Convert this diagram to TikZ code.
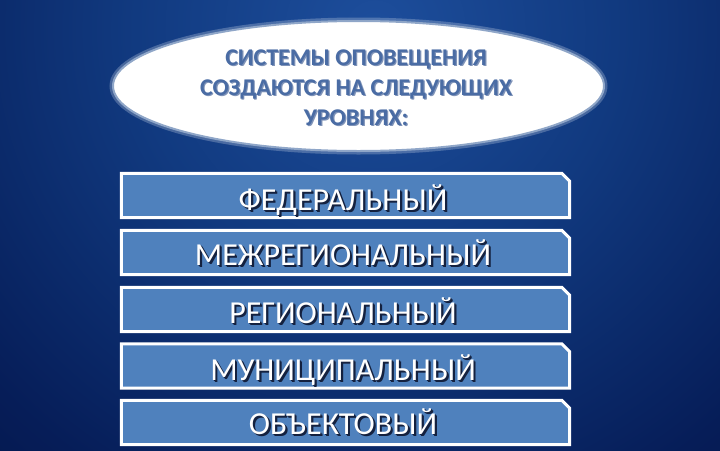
\documentclass[tikz,border=0pt]{standalone}
\usepackage{fontspec}
\setmainfont{Carlito}
\usetikzlibrary{shapes.geometric,calc}
\definecolor{bgA}{HTML}{1D4E9C}
\definecolor{bgB}{HTML}{113A80}
\definecolor{bgC}{HTML}{061D58}
\definecolor{bgD}{HTML}{000A33}
\definecolor{barBlue}{HTML}{4F81BD}
\definecolor{ellLine}{HTML}{8FA6C8}
\definecolor{ellText}{HTML}{4A6CA4}
\definecolor{ellShadow}{HTML}{7F93B8}
\definecolor{barShadow}{HTML}{14213F}
\pgfdeclareradialshading{bgshade}{\pgfpoint{0bp}{0bp}}{color(0bp)=(bgA); color(6bp)=(bgB); color(13bp)=(bgC); color(21bp)=(bgD); color(50bp)=(bgD)}
% text with a drop shadow: #1 shadow colour, #2 offset, #3 text
\newcommand\shadowtxt[3]{\rlap{\hspace{#2}\raisebox{-#2}{\textcolor{#1}{#3}}}#3}
\newcommand\barlabel[1]{\rlap{\hspace{2.2pt}\raisebox{-2.2pt}{\textcolor{barShadow}{#1}}}\rlap{\hspace{1.2pt}\raisebox{-1.2pt}{\textcolor{barShadow}{#1}}}#1}
\begin{document}
\begin{tikzpicture}[x=1pt,y=-1pt,
  barbox/.style={rectangle, minimum width=448pt, minimum height=44pt, inner sep=0pt},
  barline/.style={draw=white, line width=3pt, fill=barBlue, line join=miter},
  bartext/.style={anchor=base, text=white, inner sep=0pt, font=\fontsize{32}{34}\selectfont},
  elltext/.style={align=center, inner sep=0pt, text=ellText,
    font=\fontsize{24}{30}\selectfont\bfseries}
]
\useasboundingbox (0,0) rectangle (720,450);
\begin{scope}
  \clip (0,0) rectangle (720,450);
  \shade[shading=bgshade] (375,30) circle (1000pt);
\end{scope}

% title ellipse
\node[ellipse, draw=ellLine!50!white, line width=5pt, opacity=0.3,
  minimum width=493pt, minimum height=132pt] (ellglow) at (358.5,86) {};
\node[ellipse, draw=ellLine, line width=2pt, fill=white,
  minimum width=491pt, minimum height=130pt] (ell) at (358.5,86) {};
\node[elltext] (title) at (356,88)
  {\shadowtxt{ellShadow}{1.2pt}{СИСТЕМЫ ОПОВЕЩЕНИЯ}\\
   \shadowtxt{ellShadow}{1.2pt}{СОЗДАЮТСЯ НА СЛЕДУЮЩИХ}\\
   \shadowtxt{ellShadow}{1.2pt}{УРОВНЯХ:}};

% level bars (top-right corner snipped)
\foreach \b/\y in {b1/195.5, b2/252.5, b3/309.5, b4/366, b5/422.5}{
  \node[barbox] (\b) at (345.5,\y) {};
  \path[barline] (\b.north west) -- ($(\b.north east)+(-8,0)$)
    -- ($(\b.north east)+(0,8)$) -- (\b.south east) -- (\b.south west) -- cycle;
}

\foreach \b/\dy/\t in {b1/14.5/ФЕДЕРАЛЬНЫЙ, b2/12.5/МЕЖРЕГИОНАЛЬНЫЙ,
    b3/13.5/РЕГИОНАЛЬНЫЙ, b4/14/МУНИЦИПАЛЬНЫЙ, b5/12/ОБЪЕКТОВЫЙ}{
  \node[bartext] (\b t) at ($(\b.center)+(-2.5,\dy)$) {\barlabel{\t}};
}
\end{tikzpicture}
\end{document}
